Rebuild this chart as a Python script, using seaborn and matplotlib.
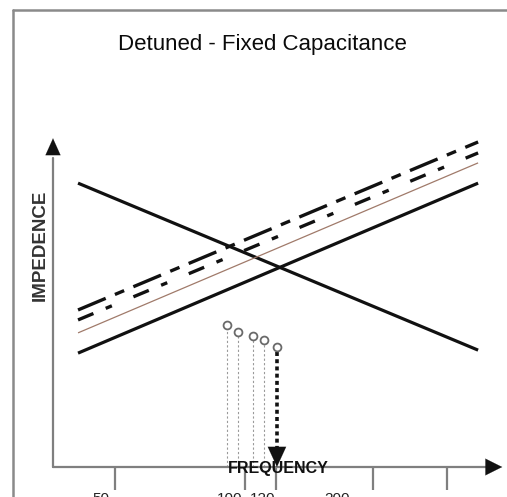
import matplotlib
matplotlib.use("Agg")
import matplotlib.pyplot as plt
import numpy as np
import pandas as pd
import seaborn as sns

# diagram units: x = frequency (0..100 along the axis), y = impedance (0..100)
freq_ends = [5.6, 95.1]
z_capacitive = [85.5, 35.2]      # falling line
z_inductive = [34.3, 85.5]       # solid rising line
z_brown = [40.4, 91.6]           # thin brown rising line
z_dashed_low = [44.3, 94.6]
z_dashed_high = [47.3, 97.9]

# resonance points
res_freq = [38.9, 41.4, 44.7, 47.2, 50.1]
res_imp = [42.8, 40.7, 39.5, 38.3, 36.1]

tick_pos = [13.9, 43.0, 49.9, 71.6, 88.1]
tick_label_pos = [10.8, 39.6, 46.8, 63.5]
tick_labels = ["50", "100", "120", "200"]

sns.set_theme(style="white")
plt.rcParams['font.family'] = ['Liberation Sans', 'DejaVu Sans']

fig = plt.figure(figsize=(5.07, 4.97), dpi=100)
ax = fig.add_axes([0, 0, 1, 1])
sx, sy = 4.47, 3.32
ax.set_xlim(-53 / sx, (507 - 53) / sx)
ax.set_ylim(-(497 - 467) / sy, 467 / sy)
ax.axis("off")

# outer frame
fig.add_artist(plt.Line2D([0.026, 0.026], [0, 0.98], color="#8a8a8a", lw=1.8))
fig.add_artist(plt.Line2D([0.026, 1.0], [0.98, 0.98], color="#8a8a8a", lw=1.8))

lines = pd.DataFrame({
    "freq": freq_ends * 5,
    "imp": z_capacitive + z_inductive + z_brown + z_dashed_low + z_dashed_high,
    "curve": ["cap"] * 2 + ["ind"] * 2 + ["brown"] * 2 + ["dlow"] * 2 + ["dhigh"] * 2,
})
palette = {"cap": "#111111", "ind": "#111111", "brown": "#a07a6a",
           "dlow": "#111111", "dhigh": "#111111"}
sizes = {"cap": 2.3, "ind": 2.3, "brown": 0.9, "dlow": 2.4, "dhigh": 2.4}
sns.lineplot(data=lines, x="freq", y="imp", hue="curve", palette=palette,
             size="curve", sizes=sizes, legend=False, ax=ax, sort=False)
for ln, key in zip(ax.get_lines(), ["cap", "ind", "brown", "dlow", "dhigh"]):
    ln.set_solid_capstyle("butt")
    if key == "dlow":
        ln.set_dashes((5, 4, 2, 7))
    elif key == "dhigh":
        ln.set_dashes((9, 3, 3, 3))

# stems from resonance points down to the frequency axis
ax.vlines(res_freq[:-1], 0, res_imp[:-1], colors="#9a9a9a", lw=0.8,
          linestyles=(0, (2, 2)))
ax.plot([res_freq[-1], res_freq[-1]], [res_imp[-1] - 1.5, 5.5], color="#111111",
        lw=2.6, linestyle=(0, (1.1, 0.9)))
ax.annotate("", xy=(res_freq[-1], 0), xytext=(res_freq[-1], 5.8),
            arrowprops=dict(arrowstyle="-|>,head_length=1.2,head_width=0.55",
                            color="#111111", lw=0.1, shrinkA=0, shrinkB=0))
sns.scatterplot(x=res_freq, y=res_imp, ax=ax, s=32, facecolor="white",
                edgecolor="#6a6a6a", linewidth=1.3, zorder=5)

# axes with arrows
axis_col = "#7f7f7f"
ax.plot([0, 0], [0, 93], color=axis_col, lw=1.6)
ax.plot([0, 98], [0, 0], color=axis_col, lw=1.6)
ax.annotate("", xy=(0, 99), xytext=(0, 94),
            arrowprops=dict(arrowstyle="-|>,head_length=1.0,head_width=0.45",
                            color="#111111", lw=0.1, shrinkA=0, shrinkB=0))
ax.annotate("", xy=(100.5, 0), xytext=(97.5, 0),
            arrowprops=dict(arrowstyle="-|>,head_length=1.0,head_width=0.5",
                            color="#111111", lw=0.1, shrinkA=0, shrinkB=0))
ax.vlines(tick_pos, -6.8, 0, colors=axis_col, lw=1.6)
# tick labels sit below the frame edge and are only partly visible, as in the original
for x, lab in zip(tick_label_pos, tick_labels):
    ax.text(x, -7.6, lab, ha="center", va="top", fontsize=11, color="#222222")

ax.text(50.3, -0.5, "FREQUENCY", ha="center", va="center", fontsize=11.5,
        fontweight="bold", color="#111111")
ax.text(-2.9, 66.9, "IMPEDENCE", ha="center", va="center", rotation=90,
        fontsize=13.5, fontweight="bold", color="#333333")
fig.text(0.517, 0.911, "Detuned - Fixed Capacitance", ha="center", va="center",
         fontsize=16, color="#0a0a0a")

fig.savefig("out.png", dpi=100)
